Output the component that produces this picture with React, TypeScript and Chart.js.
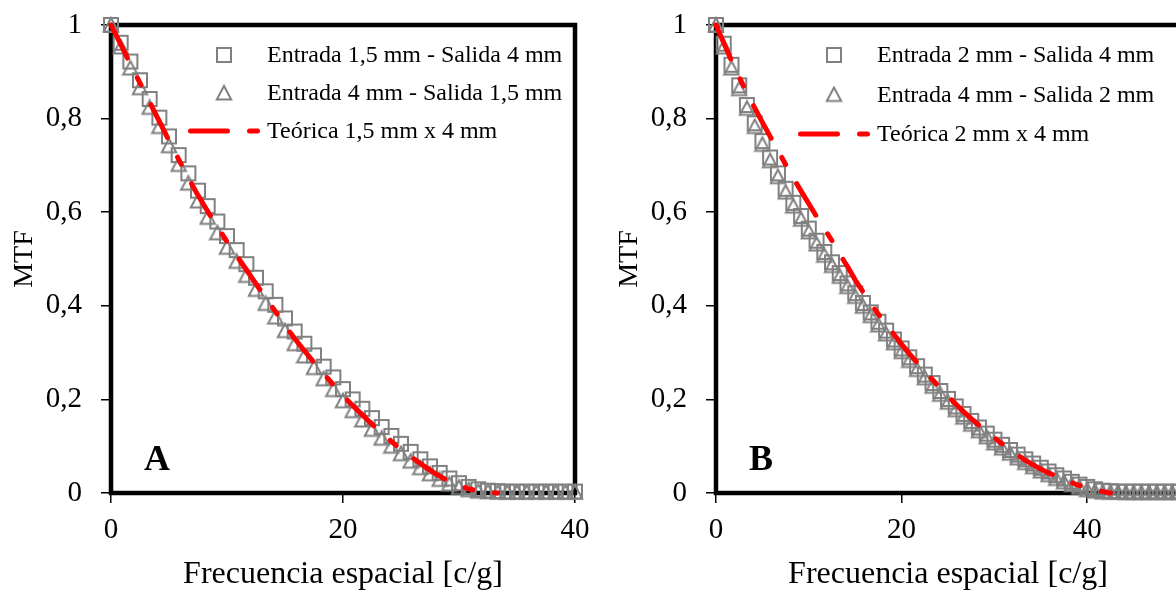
import React, { useEffect, useRef } from 'react';
import { Chart, registerables } from 'chart.js';

Chart.register(...registerables);

const FONT = "'Times New Roman', 'Liberation Serif', serif";
const GRAY = '#808080';
const RED = '#ff0000';

// ---------- Data ----------
const freqA = [0, 0.83, 1.67, 2.5, 3.33, 4.17, 5, 5.83, 6.67, 7.5, 8.33, 9.17, 10, 10.83, 11.67, 12.5, 13.33, 14.17, 15, 15.83, 16.67, 17.5, 18.33, 19.17, 20, 20.83, 21.67, 22.5, 23.33, 24.17, 25, 25.83, 26.67, 27.5, 28.33, 29.17, 30, 30.83, 31.67, 32.5, 33.33, 34.17, 35, 35.83, 36.67, 37.5, 38.33, 39.17, 40];
const squaresA = [1.000, 0.962, 0.922, 0.882, 0.842, 0.802, 0.762, 0.722, 0.683, 0.646, 0.613, 0.580, 0.549, 0.519, 0.489, 0.460, 0.431, 0.402, 0.373, 0.345, 0.319, 0.294, 0.270, 0.247, 0.222, 0.200, 0.180, 0.160, 0.141, 0.122, 0.105, 0.088, 0.072, 0.057, 0.043, 0.031, 0.021, 0.013, 0.008, 0.005, 0.004, 0.003, 0.003, 0.003, 0.003, 0.003, 0.003, 0.003, 0.003];
const trianglesA = [1.000, 0.953, 0.908, 0.866, 0.824, 0.783, 0.742, 0.702, 0.662, 0.624, 0.589, 0.556, 0.525, 0.495, 0.465, 0.435, 0.405, 0.376, 0.347, 0.319, 0.293, 0.268, 0.244, 0.221, 0.197, 0.176, 0.156, 0.136, 0.117, 0.100, 0.084, 0.068, 0.054, 0.041, 0.029, 0.019, 0.012, 0.007, 0.004, 0.003, 0.002, 0.002, 0.002, 0.002, 0.002, 0.002, 0.002, 0.002, 0.002];
const theoryA = [1.000, 0.959, 0.917, 0.876, 0.835, 0.794, 0.753, 0.713, 0.673, 0.636, 0.602, 0.569, 0.537, 0.507, 0.477, 0.447, 0.417, 0.388, 0.358, 0.330, 0.304, 0.279, 0.255, 0.231, 0.208, 0.187, 0.167, 0.147, 0.128, 0.110, 0.094, 0.078, 0.063, 0.049, 0.036, 0.025, 0.016, 0.009, 0.004, 0.001, 0.000];

const freqB = [0, 0.83, 1.67, 2.5, 3.33, 4.17, 5, 5.83, 6.67, 7.5, 8.33, 9.17, 10, 10.83, 11.67, 12.5, 13.33, 14.17, 15, 15.83, 16.67, 17.5, 18.33, 19.17, 20, 20.83, 21.67, 22.5, 23.33, 24.17, 25, 25.83, 26.67, 27.5, 28.33, 29.17, 30, 30.83, 31.67, 32.5, 33.33, 34.17, 35, 35.83, 36.67, 37.5, 38.33, 39.17, 40, 40.83, 41.67, 42.5, 43.33, 44.17, 45, 45.83, 46.67, 47.5, 48.33, 49.17, 50];
const squaresB = [1.000, 0.960, 0.915, 0.871, 0.829, 0.790, 0.752, 0.717, 0.683, 0.650, 0.620, 0.592, 0.565, 0.539, 0.515, 0.493, 0.470, 0.448, 0.427, 0.406, 0.386, 0.366, 0.347, 0.328, 0.309, 0.290, 0.271, 0.253, 0.235, 0.218, 0.201, 0.185, 0.169, 0.154, 0.140, 0.127, 0.114, 0.103, 0.092, 0.082, 0.072, 0.063, 0.054, 0.046, 0.038, 0.031, 0.024, 0.018, 0.013, 0.008, 0.005, 0.004, 0.003, 0.003, 0.003, 0.003, 0.003, 0.003, 0.003, 0.003, 0.003];
const trianglesB = [1.000, 0.953, 0.908, 0.864, 0.822, 0.783, 0.745, 0.710, 0.676, 0.643, 0.613, 0.585, 0.558, 0.532, 0.508, 0.486, 0.463, 0.441, 0.420, 0.399, 0.379, 0.359, 0.340, 0.321, 0.302, 0.283, 0.264, 0.246, 0.228, 0.211, 0.194, 0.178, 0.162, 0.147, 0.133, 0.120, 0.107, 0.096, 0.085, 0.075, 0.065, 0.056, 0.047, 0.039, 0.031, 0.024, 0.018, 0.012, 0.007, 0.004, 0.002, 0.002, 0.002, 0.001, 0.001, 0.001, 0.001, 0.001, 0.001, 0.001, 0.001];
const theoryB = [1.000, 0.962, 0.924, 0.889, 0.855, 0.823, 0.792, 0.762, 0.732, 0.702, 0.673, 0.645, 0.618, 0.591, 0.565, 0.539, 0.510, 0.484, 0.455, 0.430, 0.405, 0.382, 0.360, 0.339, 0.318, 0.298, 0.279, 0.260, 0.242, 0.224, 0.207, 0.190, 0.174, 0.159, 0.145, 0.131, 0.118, 0.105, 0.093, 0.081, 0.070, 0.060, 0.051, 0.043, 0.036, 0.029, 0.022, 0.016, 0.011, 0.006, 0.003, 0.000];

const yTickValues = [0, 0.2, 0.4, 0.6, 0.8, 1];
const xTickValuesA = [0, 20, 40];
const xTickValuesB = [0, 20, 40];

const labelsA = ['Entrada 1,5 mm - Salida 4 mm', 'Entrada 4 mm - Salida 1,5 mm', 'Teórica 1,5 mm x 4 mm'];
const labelsB = ['Entrada 2 mm - Salida 4 mm', 'Entrada 4 mm - Salida 2 mm', 'Teórica 2 mm x 4 mm'];

const xTitle = 'Frecuencia espacial [c/g]';
const yTitle = 'MTF';

// ---------- Marker images ----------
function makeSquare(): HTMLCanvasElement {
  const c = document.createElement('canvas');
  c.width = 18; c.height = 18;
  const g = c.getContext('2d')!;
  g.strokeStyle = GRAY; g.lineWidth = 2;
  g.strokeRect(2, 2, 14, 14);
  return c;
}
function makeTriangle(): HTMLCanvasElement {
  const c = document.createElement('canvas');
  c.width = 18; c.height = 18;
  const g = c.getContext('2d')!;
  g.strokeStyle = GRAY; g.lineWidth = 2; g.lineJoin = 'miter';
  g.beginPath();
  g.moveTo(9, 2); g.lineTo(16.2, 15.5); g.lineTo(1.8, 15.5); g.closePath();
  g.stroke();
  return c;
}

const DASH = [37, 22, 8, 22];

type PanelProps = {
  freq: number[];
  squares: number[];
  triangles: number[];
  theory: number[];
  xMax: number;
  xTicks: number[];
  labels: string[];
  letter: string;
  legendX: number;
  legendY: number;
  legendGap: number;
};

function Panel(p: PanelProps) {
  const ref = useRef<HTMLCanvasElement | null>(null);
  useEffect(() => {
    const canvas = ref.current;
    if (!canvas) return;
    const sq = makeSquare();
    const tr = makeTriangle();

    const framePlugin = {
      id: 'frame',
      beforeDatasetsDraw(chart: any) {
        const { ctx, chartArea } = chart;
        const { left, top, right, bottom } = chartArea;
        ctx.save();
        ctx.strokeStyle = '#000';
        ctx.lineWidth = 4.5;
        ctx.strokeRect(left, top, right - left, bottom - top);
        ctx.restore();
      },
      afterDraw(chart: any) {
        const { ctx, chartArea } = chart;
        const { left, bottom } = chartArea;
        ctx.save();
        // panel letter
        ctx.fillStyle = '#000';
        ctx.font = `bold 36px ${FONT}`;
        ctx.textAlign = 'left';
        ctx.textBaseline = 'alphabetic';
        ctx.fillText(p.letter, left + 33, bottom - 23);
        // legend
        const lx = p.legendX;
        const y0 = p.legendY;
        const ys = [y0, y0 + p.legendGap, y0 + 2 * p.legendGap];
        ctx.drawImage(sq, lx - 9, ys[0] - 9);
        ctx.drawImage(tr, lx - 9, ys[1] - 9);
        ctx.strokeStyle = RED;
        ctx.lineWidth = 5;
        ctx.lineCap = 'round';
        ctx.setLineDash(DASH);
        ctx.beginPath();
        ctx.moveTo(lx - 33.5, ys[2]);
        ctx.lineTo(lx + 33.5, ys[2]);
        ctx.stroke();
        ctx.setLineDash([]);
        ctx.font = `24px ${FONT}`;
        ctx.textBaseline = 'middle';
        ctx.fillStyle = '#000';
        p.labels.forEach((t, i) => ctx.fillText(t, lx + 43, ys[i] + 1));
        ctx.restore();
      },
    };

    const chart = new Chart(canvas, {
      type: 'scatter',
      data: {
        datasets: [
          {
            label: p.labels[2],
            data: p.theory.map((v, i) => ({ x: p.freq[i], y: v })),
            showLine: true,
            borderColor: RED,
            borderWidth: 5,
            borderDash: DASH,
            borderCapStyle: 'round',
            pointRadius: 0,
            tension: 0,
            clip: false,
            order: 0,
          } as any,
          {
            label: p.labels[0],
            data: p.squares.map((v, i) => ({ x: p.freq[i], y: v })),
            showLine: false,
            pointStyle: sq,
            pointRadius: 9,
            clip: false,
            order: 1,
          } as any,
          {
            label: p.labels[1],
            data: p.triangles.map((v, i) => ({ x: p.freq[i], y: v })),
            showLine: false,
            pointStyle: tr,
            pointRadius: 9,
            clip: false,
            order: 2,
          } as any,
        ],
      },
      options: {
        responsive: false,
        animation: false,
        events: [],
        layout: { padding: { left: 0, top: 25, right: 25, bottom: 0 } },
        plugins: { legend: { display: false }, tooltip: { enabled: false } },
        scales: {
          x: {
            type: 'linear',
            min: 0,
            max: p.xMax,
            afterFit: (s: any) => { s.height = 99; s.paddingLeft = 0; s.paddingRight = 0; },
            afterBuildTicks: (s: any) => { s.ticks = p.xTicks.map((v) => ({ value: v })); },
            border: { display: false },
            grid: { display: true, drawOnChartArea: false, drawTicks: true, tickLength: 10, color: '#000', lineWidth: 1.5 },
            ticks: { color: '#000', font: { family: FONT, size: 29 }, padding: 10, maxRotation: 0, callback: (v: any) => String(v) },
            title: { display: true, text: xTitle, color: '#000', font: { family: FONT, size: 32 }, padding: { top: 0, bottom: -2 } },
          },
          y: {
            type: 'linear',
            min: 0,
            max: 1,
            afterFit: (s: any) => { s.width = 111; s.paddingTop = 0; s.paddingBottom = 0; },
            afterBuildTicks: (s: any) => { s.ticks = yTickValues.map((v) => ({ value: v })); },
            border: { display: false },
            grid: { display: true, drawOnChartArea: false, drawTicks: true, tickLength: 10, color: '#000', lineWidth: 1.5 },
            ticks: { color: '#000', font: { family: FONT, size: 29 }, padding: 19, callback: (v: any) => String(Math.round(v * 10) / 10).replace('.', ',') },
            title: { display: true, text: yTitle, color: '#000', font: { family: FONT, size: 28 }, padding: { top: 8, bottom: 0 } },
          },
        },
      } as any,
      plugins: [framePlugin],
    });
    return () => chart.destroy();
  }, []);
  return <canvas ref={ref} width={600} height={592} style={{ display: 'block', width: 600, height: 592 }} />;
}

export default function App() {
  return (
    <div style={{ position: 'fixed', left: 0, top: 0, width: 1176, height: 592, overflow: 'hidden', background: '#fff' }}>
      <div style={{ position: 'absolute', left: 0, top: 0 }}>
        <Panel freq={freqA} squares={squaresA} triangles={trianglesA} theory={theoryA} xMax={40} xTicks={xTickValuesA} labels={labelsA} letter="A" legendX={224} legendY={55} legendGap={38} />
      </div>
      <div style={{ position: 'absolute', left: 605, top: 0 }}>
        <Panel freq={freqB} squares={squaresB} triangles={trianglesB} theory={theoryB} xMax={50} xTicks={xTickValuesB} labels={labelsB} letter="B" legendX={229} legendY={55} legendGap={39.5} />
      </div>
    </div>
  );
}
